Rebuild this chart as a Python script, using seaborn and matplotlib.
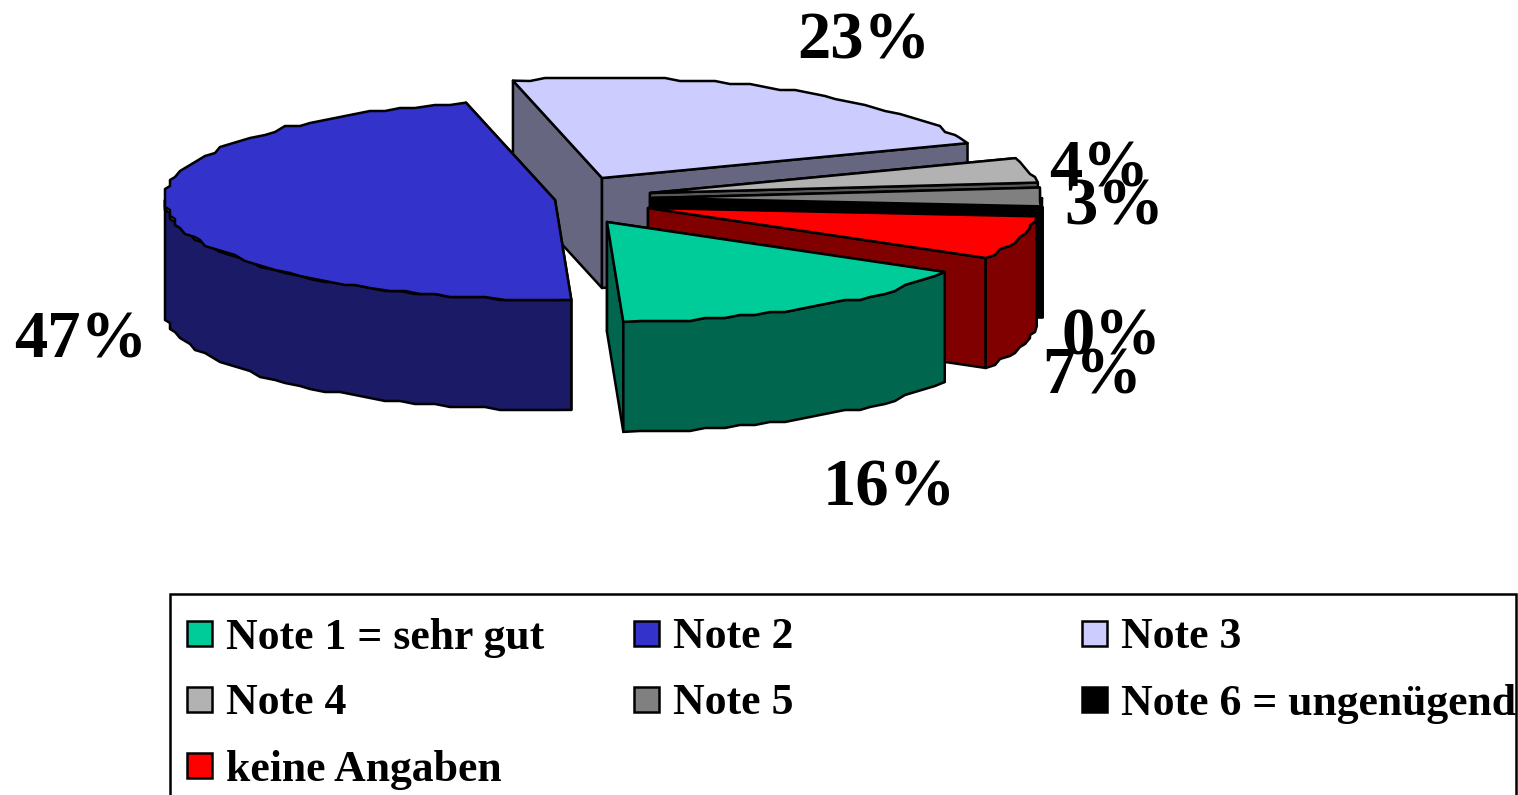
import numpy as np
import matplotlib
matplotlib.use("Agg")
import matplotlib.pyplot as plt
from matplotlib.patches import Polygon, Rectangle
import seaborn as sns

# Data
categories = ["Note 1 = sehr gut", "Note 2", "Note 3", "Note 4", "Note 5", "Note 6 = ungenügend", "keine Angaben"]
percent = [16, 47, 23, 4, 3, 0, 7]
colors = ["#00CC99", "#3333CC", "#CCCCFF", "#B2B2B2", "#808080", "#000000", "#FF0000"]

# where each slice was pulled out to, in pixels from the pie centre
explode_x = [18, -34, 13, 61, 63, 65, 59]
explode_y = [22, 0, -22, -7, -2, -1, 8]
label_pos = [(889, 489), (81, 341), (864, 42), (1099, 170), (1114, 208), (1111, 338), (1092, 377)]

sns.set_theme(style="white")
plt.rcParams["font.family"] = ["Liberation Serif", "DejaVu Serif"]
palette = sns.color_palette(colors)

cx, cy = 589, 200
rx, ry = 390, 100
depth = 110
start_angle = -30


def arc(x0, y0, a1, a2):
    # a1 > a2, clockwise; coarse steps give the rough outline of the original
    n = max(2, int((a1 - a2) / 2.5) + 1)
    t = np.radians(np.linspace(a1, a2, n))
    x = x0 + rx * np.cos(t)
    y = y0 - ry * np.sin(t)
    # stair-step only the inner points, the corners stay exact
    y[1:-1] = np.round(y[1:-1] / 3) * 3
    x[1:-1] = np.round(x[1:-1] / 5) * 5
    return np.column_stack([x, y])


def draw_slice(ax, i, a1, a2):
    top = palette[i]
    side = tuple(c * 0.5 for c in top)
    x0, y0 = cx + explode_x[i], cy + explode_y[i]
    z = 2 + draw_order.index(i) * 5
    kw = dict(edgecolor="black", linewidth=1.8, joinstyle="round")
    for a in (a1, a2):
        t = np.radians(a)
        ex, ey = x0 + rx * np.cos(t), y0 - ry * np.sin(t)
        quad = [(x0, y0), (ex, ey), (ex, ey + depth), (x0, y0 + depth)]
        ax.add_patch(Polygon(quad, facecolor=side, zorder=z, **kw))
    # the outer wall only shows on the front half
    lo, hi = max(a2, -180), min(a1, 0)
    if hi > lo:
        rim = arc(x0, y0, hi, lo)
        wall = np.vstack([rim, (rim + [0, depth])[::-1]])
        ax.add_patch(Polygon(wall, facecolor=side, zorder=z + 1, **kw))
    if a1 > a2:
        face = np.vstack([[x0, y0], arc(x0, y0, a1, a2)])
        ax.add_patch(Polygon(face, facecolor=top, zorder=z + 2, **kw))


fig = plt.figure(figsize=(15.18, 7.95), dpi=100)
ax = fig.add_axes([0, 0, 1, 1])
ax.set_xlim(0, 1518)
ax.set_ylim(795, 0)
ax.axis("off")

# back slices first, green goes on top of everything
draw_order = [2, 3, 4, 5, 6, 1, 0]
angles = start_angle - np.cumsum([0] + percent) * 3.6
for i in draw_order:
    a1, a2 = angles[i], angles[i + 1]
    # keep the angles in one turn so the front half test works
    if a1 < -180:
        a1, a2 = a1 + 360, a2 + 360
    draw_slice(ax, i, a1, a2)

for i, pos in enumerate(label_pos):
    ax.text(pos[0], pos[1], f"{percent[i]}%", fontsize=48, fontweight="bold", color="black",
            ha="center", va="center", zorder=60)

# Legend is drawn by hand: equal columns, and it runs off the bottom of the picture
ax.add_patch(Rectangle((170, 594), 1346, 240, facecolor="white", edgecolor="black", linewidth=1.8, zorder=1))
col_x = [187, 634, 1082]
row_y = [633, 699, 765]
for i, name in enumerate(categories):
    row, col = i // 3, i % 3
    ax.add_patch(Rectangle((col_x[col], row_y[row] - 12), 25, 25, facecolor=palette[i], edgecolor="black",
                           linewidth=1.8, zorder=2))
    ax.text(col_x[col] + 39, row_y[row], name, fontsize=31.5, fontweight="bold", color="black",
            ha="left", va="center_baseline", zorder=3)

plt.savefig("out.png", dpi=100)
